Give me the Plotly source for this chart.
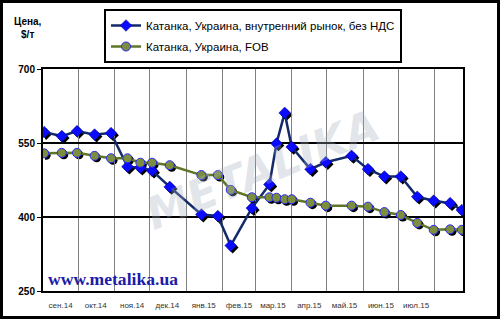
import plotly.graph_objects as go

# ---- data ----
dates = ["2014-09-02", "2014-09-17", "2014-09-30", "2014-10-15", "2014-10-29",
         "2014-11-12", "2014-11-23", "2014-12-03", "2014-12-18", "2015-01-14",
         "2015-01-28", "2015-02-08", "2015-02-26", "2015-03-13", "2015-03-19",
         "2015-03-26", "2015-04-01", "2015-04-17", "2015-04-30", "2015-05-22",
         "2015-06-05", "2015-06-19", "2015-07-03", "2015-07-17", "2015-07-31",
         "2015-08-14", "2015-08-24"]
domestic = [572, 564, 574, 567, 570, 502, 500, 494, 461, 405, 402, 342, 418, 466,
            549, 611, 542, 497, 511, 524, 497, 482, 482, 441, 433, 428, 414]
fob = [529, 530, 530, 524, 519, 519, 510, 510, 505, 485, 485, 455, 440, 440,
       439, 436, 436, 429, 423, 423, 421, 410, 404, 388, 374, 375, 374]
name_dom = "Катанка, Украина, внутренний рынок, без НДС"
name_fob = "Катанка, Украина, FOB"
month_mid = ["2014-09-16", "2014-10-16", "2014-11-16", "2014-12-16", "2015-01-16",
             "2015-02-15", "2015-03-16", "2015-04-16", "2015-05-16", "2015-06-16",
             "2015-07-16"]
month_labels = ["сен.14", "окт.14", "ноя.14", "дек.14", "янв.15", "фев.15",
                "мар.15", "апр.15", "май.15", "июн.15", "июл.15"]
y_ticks = [250, 400, 550, 700]
x_range = ["2014-09-01", "2015-08-25"]
y_range = [250, 700]

W, H = 500, 319
ML, MR, MT, MB = 43, 35, 69, 26
PW = W - ML - MR
PH = H - MT - MB
SH = 2  # shadow offset px

fig = go.Figure()

# shadows (drawn first, on base subplot shifted right/down)
fig.add_trace(go.Scatter(x=dates, y=domestic, mode="markers", xaxis="x", yaxis="y",
                         marker=dict(symbol="diamond", size=9, color="black"),
                         showlegend=False, hoverinfo="skip"))
fig.add_trace(go.Scatter(x=dates, y=fob, mode="markers", xaxis="x", yaxis="y",
                         marker=dict(symbol="circle", size=9, color="black"),
                         showlegend=False, hoverinfo="skip"))

# main traces
fig.add_trace(go.Scatter(x=dates, y=domestic, mode="lines+markers", name=name_dom,
                         xaxis="x2", yaxis="y2", legendgroup="a",
                         line=dict(color="#12296a", width=2.5),
                         marker=dict(symbol="diamond", size=9, color="#0a0aff",
                                     line=dict(color="#00007a", width=0.5))))
fig.add_trace(go.Scatter(x=dates, y=fob, mode="lines+markers", name=name_fob,
                         xaxis="x2", yaxis="y2", legendgroup="b",
                         line=dict(color="#5f7628", width=2.5),
                         marker=dict(symbol="circle", size=9, color="#7c8d3e",
                                     line=dict(color="#2a2aff", width=1))))

fig.update_layout(
    width=W, height=H,
    margin=dict(l=ML, r=MR, t=MT, b=MB, autoexpand=False),
    paper_bgcolor="white", plot_bgcolor="rgba(0,0,0,0)",
    font=dict(family="Liberation Sans", color="black"),
    xaxis=dict(domain=[SH / PW, 1], range=x_range, type="date", visible=False,
               anchor="y"),
    yaxis=dict(domain=[0, 1 - SH / PH], range=y_range, visible=False, anchor="x"),
    xaxis2=dict(domain=[0, 1 - SH / PW], range=x_range, type="date", anchor="y2",
                tickmode="array", tickvals=month_mid, ticktext=month_labels,
                ticks="", showgrid=False, tickfont=dict(size=8, color="#333333"),
                showline=True, linecolor="black", linewidth=2, mirror=True,
                ticklabelstandoff=5,
                minor=dict(dtick="M1", tick0="2014-09-01", showgrid=True,
                           gridcolor="#808080", gridwidth=1, ticks="")),
    yaxis2=dict(domain=[SH / PH, 1], range=y_range, anchor="x2",
                tickmode="array", tickvals=y_ticks, ticks="outside", ticklen=4,
                tickcolor="black", tickwidth=1,
                tickfont=dict(size=10, color="black", weight="bold"),
                showgrid=True, gridcolor="black", gridwidth=1.5,
                showline=True, linecolor="black", linewidth=2, mirror=True),
    legend=dict(x=(104 - ML) / PW, y=(H - MB - 9) / PH, xanchor="left", yanchor="top",
                bgcolor="white", bordercolor="black", borderwidth=2,
                font=dict(size=11.5, color="black"), traceorder="grouped",
                tracegroupgap=2, itemwidth=30),
    showlegend=True,
)

fig.add_annotation(text="Цена,<br>$/т", xref="paper", yref="paper",
                   x=(28 - ML) / PW, y=(H - MB - 28) / PH, showarrow=False,
                   xanchor="center", yanchor="middle", align="center",
                   font=dict(size=10, color="black", weight="bold"))
fig.add_annotation(text="www.metalika.ua", xref="paper", yref="paper",
                   x=(46 - ML) / PW, y=(H - MB - 279) / PH, showarrow=False,
                   xanchor="left", yanchor="middle",
                   font=dict(family="Liberation Serif", size=17.6,
                             color="#1c1ca8", weight="bold"))

# watermark
fig.add_annotation(text="METALIKA", xref="paper", yref="paper",
                   x=0.52, y=0.55, showarrow=False, textangle=-22,
                   xanchor="center", yanchor="middle",
                   font=dict(size=44, color="rgba(165,178,190,0.32)",
                             family="DejaVu Sans", weight="bold", style="italic"))

# outer frame
fig.add_shape(type="rect", xref="paper", yref="paper",
              x0=-ML / PW, x1=1 + MR / PW, y0=-MB / PH, y1=1 + MT / PH,
              line=dict(color="black", width=6), fillcolor="rgba(0,0,0,0)")

fig.write_html("out.html")
